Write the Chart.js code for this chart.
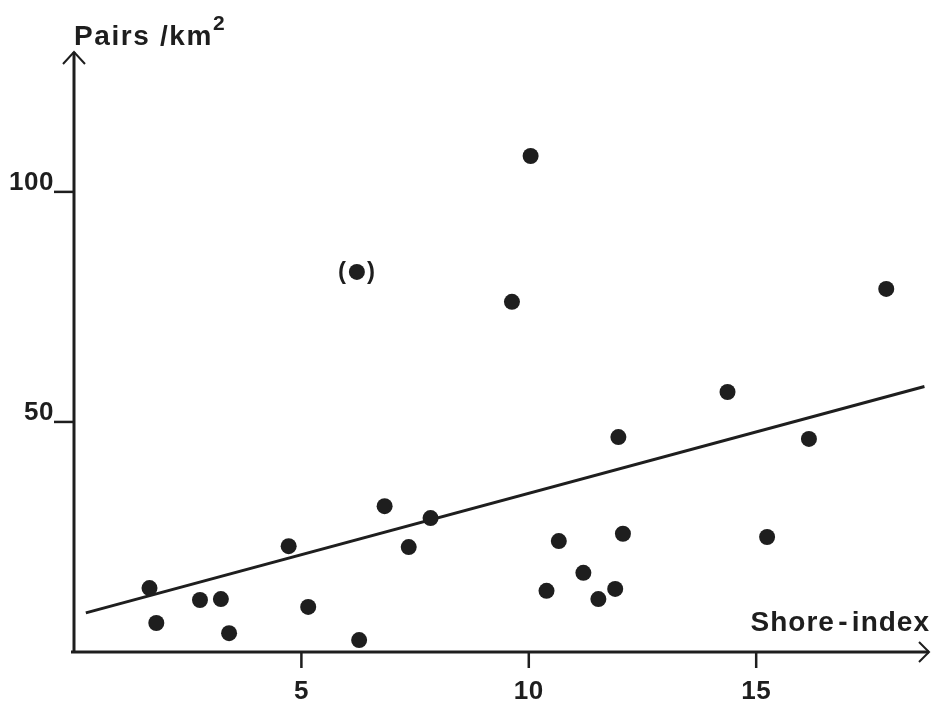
<!DOCTYPE html>
<html>
<head>
<meta charset="utf-8">
<script src="https://cdn.jsdelivr.net/npm/chart.js@4/dist/chart.umd.min.js"></script>
<style>
  html, body { margin: 0; padding: 0; background: #fff; }
  #wrap { width: 937px; height: 704px; }
</style>
</head>
<body>
<div id="wrap"><canvas id="shoreChart"></canvas></div>
<script>
// data
var shoreIndex = [1.66, 1.81, 2.77, 3.23, 3.41, 4.72, 5.15, 6.27, 6.83, 7.36, 7.84, 9.63, 10.04, 10.39, 10.66, 11.2, 11.53, 11.9, 11.97, 12.07, 14.37, 15.24, 16.16, 17.86];
var pairsPerKm2 = [13.9, 6.3, 11.3, 11.5, 4.1, 23.0, 9.8, 2.6, 31.7, 22.8, 29.1, 76.1, 107.8, 13.3, 24.1, 17.2, 11.5, 13.7, 46.7, 25.7, 56.5, 25.0, 46.3, 78.9];
// the bracketed outlier
var outlierX = [6.22];
var outlierY = [82.6];
// fitted line, end points
var fitX = [0.26, 18.7];
var fitY = [8.5, 57.7];
var xTicks = [5, 10, 15];
var yTicks = [50, 100];

var ink = '#1e1e1e';
var font = '"Liberation Sans", Arial, sans-serif';

function pts(xs, ys) {
    return xs.map(function (x, i) { return { x: x, y: ys[i] }; });
}

// axes, arrows, ticks and labels
var axesPlugin = {
    id: 'axesPlugin',
    afterDatasetsDraw: function (chart) {
        var c = chart.ctx;
        var xs = chart.scales.x, ys = chart.scales.y;
        var x0 = xs.getPixelForValue(0), y0 = ys.getPixelForValue(0);
        var xEnd = xs.right, yTop = ys.top;
        c.save();
        c.strokeStyle = ink;
        c.fillStyle = ink;
        c.lineWidth = 3;
        c.lineCap = 'butt';
        // x axis + arrow
        c.beginPath();
        c.moveTo(x0 - 3, y0);
        c.lineTo(xEnd, y0);
        c.stroke();
        c.lineWidth = 2;
        c.beginPath();
        c.moveTo(xEnd - 10, y0 - 10);
        c.lineTo(xEnd, y0);
        c.lineTo(xEnd - 10, y0 + 10);
        c.stroke();
        // y axis + arrow
        c.lineWidth = 3;
        c.beginPath();
        c.moveTo(x0, y0 + 1);
        c.lineTo(x0, yTop);
        c.stroke();
        c.lineWidth = 2;
        c.beginPath();
        c.moveTo(x0 - 11, yTop + 12);
        c.lineTo(x0, yTop);
        c.lineTo(x0 + 11, yTop + 12);
        c.stroke();

        c.font = 'bold 26px ' + font;
        c.letterSpacing = '0.5px';
        // x ticks
        c.lineWidth = 2.5;
        xTicks.forEach(function (t) {
            var px = xs.getPixelForValue(t);
            c.beginPath();
            c.moveTo(px, y0);
            c.lineTo(px, y0 + 16);
            c.stroke();
            c.textAlign = 'center';
            c.textBaseline = 'top';
            c.fillText(String(t), px, y0 + 27);
        });
        // y ticks
        yTicks.forEach(function (t) {
            var py = ys.getPixelForValue(t);
            c.beginPath();
            c.moveTo(x0 - 20, py);
            c.lineTo(x0, py);
            c.stroke();
            c.textAlign = 'right';
            c.textBaseline = 'alphabetic';
            c.fillText(String(t), x0 - 20, py - 2);
        });

        // axis titles
        c.font = 'bold 28px ' + font;
        c.letterSpacing = '1px';
        c.textAlign = 'right';
        c.textBaseline = 'alphabetic';
        c.fillText('Shore\u200A-\u200Aindex', xEnd + 1, y0 - 21);
        c.letterSpacing = '1.6px';
        c.textAlign = 'left';
        c.fillText('Pairs /km', x0, 45);
        var w = c.measureText('Pairs /km').width;
        c.letterSpacing = '0px';
        c.font = 'bold 21px ' + font;
        c.fillText('2', x0 + w, 30);

        // brackets round the outlier
        var op = chart.getDatasetMeta(1).data[0];
        c.font = 'bold 24px ' + font;
        c.textBaseline = 'middle';
        c.textAlign = 'center';
        c.fillText('(', op.x - 15, op.y);
        c.fillText(')', op.x + 14, op.y);
        c.restore();
    }
};

var ctx = document.getElementById('shoreChart').getContext('2d');
var shoreChart = new Chart(ctx, {
    type: 'scatter',
    data: {
        datasets: [{
            label: 'Sites',
            data: pts(shoreIndex, pairsPerKm2),
            backgroundColor: ink,
            borderColor: ink,
            pointRadius: 8,
            borderWidth: 0
        }, {
            label: 'Outlier',
            data: pts(outlierX, outlierY),
            backgroundColor: ink,
            borderColor: ink,
            pointRadius: 8,
            borderWidth: 0
        }, {
            type: 'line',
            label: 'Regression',
            data: pts(fitX, fitY),
            borderColor: ink,
            borderWidth: 3,
            pointRadius: 0,
            fill: false
        }]
    },
    options: {
        responsive: true,
        maintainAspectRatio: false,
        animation: false,
        layout: {
            padding: { left: 74, right: 2, top: 52, bottom: 52 }
        },
        scales: {
            x: { type: 'linear', min: 0, max: 18.8, display: false },
            y: { type: 'linear', min: 0, max: 130.4, display: false }
        },
        plugins: {
            legend: { display: false },
            tooltip: { enabled: false }
        }
    },
    plugins: [axesPlugin]
});
</script>
</body>
</html>
